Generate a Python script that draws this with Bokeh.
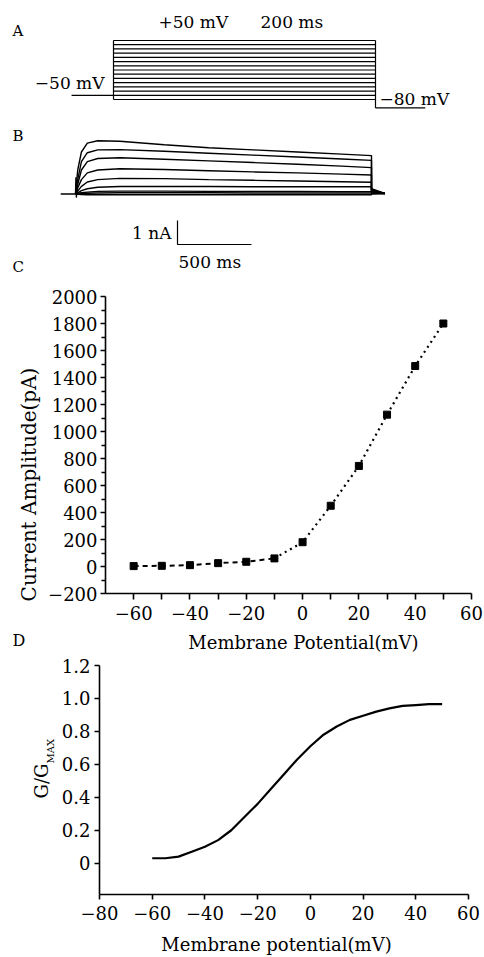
import numpy as np
from bokeh.plotting import figure
from bokeh.models import Range1d, Label, FixedTicker, CustomJSTickFormatter
from bokeh.layouts import column, row
from bokeh.embed import file_html
from bokeh.resources import INLINE

# ---------------- DATA ----------------
# Panel A: voltage-clamp protocol (schematic)
step_levels_mV = [-60, -50, -40, -30, -20, -10, 0, 10, 20, 30, 40, 50, 60, 70, 80]
holding_mV = -50
tail_mV = -80
pulse_start_ms = 0
pulse_end_ms = 200
holding_start_ms = -32
tail_end_ms = 238

# Panel B: current traces (nA)
trace_t_ms = [0, 15, 40, 80, 150, 300, 600, 900, 1200, 1500, 1800, 2000]
trace1_nA = [0, 1.00, 1.75, 2.12, 2.22, 2.20, 2.05, 1.93, 1.84, 1.75, 1.66, 1.60]
trace2_nA = [0, 0.60, 1.35, 1.72, 1.84, 1.85, 1.78, 1.70, 1.62, 1.54, 1.46, 1.40]
trace3_nA = [0, 0.40, 1.00, 1.35, 1.48, 1.51, 1.45, 1.38, 1.31, 1.24, 1.16, 1.10]
trace4_nA = [0, 0.25, 0.60, 0.88, 1.00, 1.05, 1.02, 0.97, 0.92, 0.88, 0.83, 0.79]
trace5_nA = [0, 0.12, 0.32, 0.50, 0.60, 0.65, 0.64, 0.60, 0.57, 0.54, 0.51, 0.49]
trace6_nA = [0, 0.05, 0.14, 0.22, 0.28, 0.31, 0.31, 0.31, 0.30, 0.30, 0.30, 0.30]
trace7_nA = [0, 0.02, 0.05, 0.08, 0.11, 0.12, 0.12, 0.11, 0.11, 0.11, 0.10, 0.10]
trace8_nA = [0, 0.01, 0.02, 0.03, 0.04, 0.05, 0.05, 0.05, 0.04, 0.04, 0.04, 0.04]
trace9_nA = [0, -0.01, -0.02, -0.03, -0.03, -0.03, -0.03, -0.03, -0.03, -0.03, -0.03, -0.03]
traces_nA = [trace1_nA, trace2_nA, trace3_nA, trace4_nA, trace5_nA,
             trace6_nA, trace7_nA, trace8_nA, trace9_nA]
tail_t_ms = [2000, 2090]
tail_start_nA = [0.22, 0.18, 0.15, 0.12, 0.09, 0.06, 0.04, 0.02, 0.0]
tail_end_nA = 0.02
baseline_t_ms = [-100, 0]
cap_t_ms = [0, 3, 6, 9, 14]
cap_nA = [0, 0.70, -0.15, 0.35, 0]
scalebar_ms = 500
scalebar_nA = 1

# Panel C: I-V relation
iv_mV = [-60, -50, -40, -30, -20, -10, 0, 10, 20, 30, 40, 50]
iv_pA = [3, 5, 10, 25, 35, 60, 180, 450, 745, 1125, 1485, 1800]
iv_x_ticks = [-60, -40, -20, 0, 20, 40, 60]
iv_x_minor = [-50, -30, -10, 10, 30, 50]
iv_y_ticks = list(range(-200, 2001, 200))
iv_y_minor = list(range(-100, 2000, 200))

# Panel D: conductance-voltage
gv_mV = [-60, -55, -50, -45, -40, -35, -30, -25, -20, -15, -10, -5, 0,
         5, 10, 15, 20, 25, 30, 35, 40, 45, 50]
gv_norm = [0.03, 0.03, 0.04, 0.07, 0.10, 0.14, 0.20, 0.28, 0.36, 0.45, 0.54,
           0.63, 0.71, 0.78, 0.83, 0.87, 0.895, 0.92, 0.94, 0.955, 0.96, 0.965, 0.965]
gv_x_ticks = [-80, -60, -40, -20, 0, 20, 40, 60]
gv_y_ticks = [0, 0.2, 0.4, 0.6, 0.8, 1.0, 1.2]

# ---------------- STYLE / LAYOUT (page pixels) ----------------
FONT = "DejaVu Serif"
INK = "black"
PAGE_W = 484
COMMON = dict(output_backend="svg", toolbar_location=None, outline_line_color=None,
              frame_align=False)


def lab(p, x, y, text, size, align="left", baseline="middle", angle=0.0):
    p.add_layout(Label(x=x, y=y, text=text, text_font=FONT, text_font_size=size,
                       text_align=align, text_baseline=baseline, text_color=INK,
                       angle=angle))


def strip(x0, y0, x1, y1):
    """A blank canvas whose data units equal page pixels (x right, y up from its bottom)."""
    s = figure(width=x1 - x0, height=y1 - y0, x_range=Range1d(x0, x1),
               y_range=Range1d(-y1, -y0), x_axis_location=None, y_axis_location=None,
               min_border=0, **COMMON)
    s.grid.grid_line_color = None
    return s


# ---------- Figure AB (page y 0..274) ----------
AB_H = 274
B_X0PX, B_PXMS = 75, 0.148        # t=0 ms at page x 75
B_Y0PX, B_PXNA = 193.5, 24.0      # 0 nA at page y 193.5
A_X0PX, A_PXMS = 113, 1.31        # pulse start at page x 113
A_Y0PX, A_PXMV = 99, 0.4214       # -60 mV at page y 99


def bx(px):
    return (px - B_X0PX) / B_PXMS


def by(py):
    return (B_Y0PX - py) / B_PXNA


def ax_(px):
    return (px - A_X0PX) / A_PXMS


def ay(py):
    return -60 + (A_Y0PX - py) / A_PXMV


pab = figure(width=PAGE_W, height=AB_H,
             x_range=Range1d(bx(0), bx(PAGE_W)), y_range=Range1d(by(AB_H), by(0)),
             x_axis_location=None, y_axis_location=None, min_border=0, **COMMON)
pab.grid.grid_line_color = None
pab.extra_x_ranges = {"ta": Range1d(ax_(0), ax_(PAGE_W))}
pab.extra_y_ranges = {"va": Range1d(ay(AB_H), ay(0))}

n = len(step_levels_mV)
pab.segment(x0=[pulse_start_ms] * n, x1=[pulse_end_ms] * n, y0=step_levels_mV, y1=step_levels_mV,
            line_color=INK, line_width=1.2, x_range_name="ta", y_range_name="va")
pab.segment(x0=[pulse_start_ms, pulse_end_ms, holding_start_ms, pulse_end_ms],
            x1=[pulse_start_ms, pulse_end_ms, pulse_start_ms, tail_end_ms],
            y0=[min(step_levels_mV), max(step_levels_mV), holding_mV, tail_mV],
            y1=[max(step_levels_mV), tail_mV, holding_mV, tail_mV],
            line_color=INK, line_width=1.2, x_range_name="ta", y_range_name="va")

xs, ys = [], []
for tr, ts in zip(traces_nA, tail_start_nA):
    xs.append(trace_t_ms + tail_t_ms)
    ys.append(tr + [ts, tail_end_nA])
pab.multi_line(xs, ys, line_color=INK, line_width=1.4)
pab.line(baseline_t_ms, [0, 0], line_color=INK, line_width=1.4)
pab.line(cap_t_ms, cap_nA, line_color=INK, line_width=1.4)
sb_x0, sb_y0 = bx(177), by(244)
pab.line([sb_x0, sb_x0, sb_x0 + scalebar_ms], [sb_y0 + scalebar_nA, sb_y0, sb_y0],
         line_color=INK, line_width=1.2)

lab(pab, bx(12), by(30), "A", "15px")
lab(pab, bx(12), by(135), "B", "15px")
lab(pab, bx(12), by(266), "C", "15px")
lab(pab, bx(158), by(21), "+50 mV", "17px")
lab(pab, bx(260), by(21), "200 ms", "17px")
lab(pab, bx(104), by(82), "\u221250 mV", "17px", align="right")
lab(pab, bx(379), by(98), "\u221280 mV", "17px")
lab(pab, bx(171), by(232), "1 nA", "17px", align="right")
lab(pab, bx(178), by(261), "500 ms", "17px")

# ---------- axis styling ----------
neg_fmt = "return tick < 0 ? '\\u2212' + Math.abs(tick) : '' + tick;"


def style_axis(a, tick_out, minor_out, standoff):
    a.axis_line_color = INK
    a.axis_line_width = 1.6
    a.major_tick_line_color = INK
    a.major_tick_line_width = 1.6
    a.minor_tick_line_color = INK
    a.minor_tick_line_width = 1.6
    a.major_tick_in = 0
    a.major_tick_out = tick_out
    a.minor_tick_in = 0
    a.minor_tick_out = minor_out
    a.major_label_text_font = FONT
    a.major_label_text_font_size = "18px"
    a.major_label_text_color = INK
    a.major_label_standoff = standoff


# ---------- Row C (page y 274..628) ----------
C_Y0, C_Y1 = 274, 628
C_X0 = 45
C_FL, C_FR, C_FT, C_FB = 105, 471, 296, 593
pc = figure(width=PAGE_W - C_X0, height=C_Y1 - C_Y0,
            x_range=Range1d(-70, 60), y_range=Range1d(-200, 2000),
            min_border_left=C_FL - C_X0, min_border_right=PAGE_W - C_FR,
            min_border_top=C_FT - C_Y0, min_border_bottom=C_Y1 - C_FB, **COMMON)
pc.grid.grid_line_color = None
pc.xaxis.ticker = FixedTicker(ticks=iv_x_ticks, minor_ticks=iv_x_minor)
pc.yaxis.ticker = FixedTicker(ticks=iv_y_ticks, minor_ticks=iv_y_minor)
pc.xaxis.formatter = CustomJSTickFormatter(code=neg_fmt)
pc.yaxis.formatter = CustomJSTickFormatter(code=neg_fmt)
style_axis(pc.xaxis[0], 6, 6, 6)
style_axis(pc.yaxis[0], 5, 4, 3)

split = iv_mV.index(-10)
pc.line(iv_mV[:split + 1], iv_pA[:split + 1], line_color=INK, line_width=2, line_dash="5 4")
pc.line(iv_mV[split:], iv_pA[split:], line_color=INK, line_width=2.2, line_dash="2 4")
pc.scatter(iv_mV, iv_pA, marker="square", size=7, fill_color=INK, line_color=INK)

sc = strip(0, C_Y0, C_X0, C_Y1)
lab(sc, 28, -484, "Current Amplitude(pA)", "20px", align="center", angle=np.pi / 2)

# ---------- strip between C and D (page y 628..653) ----------
S2_Y0, S2_Y1 = C_Y1, 653
s2 = strip(0, S2_Y0, PAGE_W, S2_Y1)
lab(s2, 12, -640, "D", "16px")
lab(s2, 303, -642, "Membrane Potential(mV)", "18px", align="center")

# ---------- Row D (page y 653..928) ----------
D_Y0, D_Y1 = S2_Y1, 928
D_X0 = 58
D_FL, D_FR, D_FT, D_FB = 99, 468, 665, 894
pd = figure(width=PAGE_W - D_X0, height=D_Y1 - D_Y0,
            x_range=Range1d(-80, 60), y_range=Range1d(-0.19, 1.2),
            min_border_left=D_FL - D_X0, min_border_right=PAGE_W - D_FR,
            min_border_top=D_FT - D_Y0, min_border_bottom=D_Y1 - D_FB, **COMMON)
pd.grid.grid_line_color = None
pd.xaxis.ticker = FixedTicker(ticks=gv_x_ticks, minor_ticks=[])
pd.yaxis.ticker = FixedTicker(ticks=gv_y_ticks, minor_ticks=[])
pd.xaxis.formatter = CustomJSTickFormatter(code=neg_fmt)
pd.yaxis.formatter = CustomJSTickFormatter(code="return tick == 0 ? '0' : tick.toFixed(1);")
style_axis(pd.xaxis[0], 5, 0, 6)
style_axis(pd.yaxis[0], 5, 0, 4)

pd.line(gv_mV, gv_norm, line_color=INK, line_width=2.2)

sd = strip(0, D_Y0, D_X0, D_Y1)
lab(sd, 41, -798, "G/G", "18px", align="left", angle=np.pi / 2)
lab(sd, 50, -763, "MAX", "10px", align="left", angle=np.pi / 2)

# ---------- bottom strip (page y 928..956) ----------
s3 = strip(0, D_Y1, PAGE_W, 956)
lab(s3, 276, -944, "Membrane potential(mV)", "18px", align="center")

layout = column(pab, row(sc, pc), s2, row(sd, pd), s3)
open("out.html", "w").write(file_html(layout, INLINE))
